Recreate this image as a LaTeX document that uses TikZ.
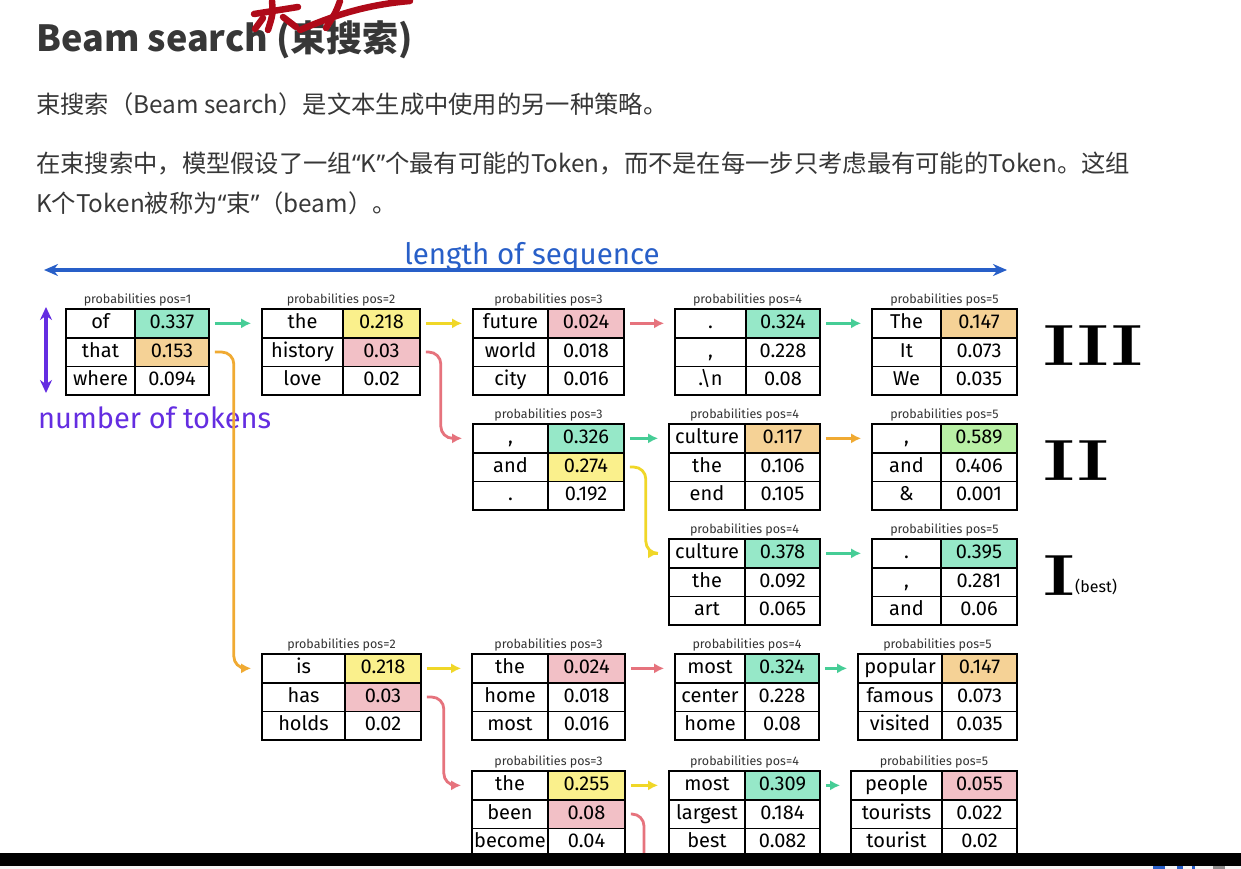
\documentclass[tikz,border=0pt]{standalone}
\usepackage{fontspec}
\setmainfont{Fira Sans}
\newfontfamily\cjk{Noto Sans CJK SC}
\newfontfamily\hand{Fira Sans}
\newfontfamily\quotefont{Noto Sans}
\newfontfamily\romanfont{Latin Modern Roman}
\usetikzlibrary{matrix,positioning,arrows.meta}

%% cell fills
\definecolor{cteal}{RGB}{150,232,200}
\definecolor{corange}{RGB}{245,210,150}
\definecolor{cyellow}{RGB}{250,240,140}
\definecolor{cpink}{RGB}{242,192,198}
\definecolor{cgreen}{RGB}{185,240,165}
%% connector colours
\definecolor{ateal}{RGB}{70,205,150}
\definecolor{ayellow}{RGB}{240,215,40}
\definecolor{apink}{RGB}{230,115,125}
\definecolor{aorange}{RGB}{240,170,50}
\definecolor{seqblue}{RGB}{40,95,200}
\definecolor{tokpurple}{RGB}{100,45,225}
\definecolor{txtgray}{RGB}{55,55,55}
\definecolor{inkred}{RGB}{175,10,25}

%% narrow quotes, as in the page text
\newcommand{\openq}{{\quotefont “}}
\newcommand{\closeq}{{\quotefont ”}}

\tikzset{
  probtab/.style 2 args={matrix of nodes, anchor=north west, inner sep=0pt,
    row sep=-1.6pt, column sep=-1.6pt,
    nodes={draw, line width=1.6pt, minimum height=28.7pt, inner sep=0pt,
      text height=14pt, text depth=4pt, anchor=center,
      font=\hand\fontsize{20}{20}\selectfont},
    column 1/.style={nodes={minimum width=#1}},
    column 2/.style={nodes={minimum width=#2}}},
  poslbl/.style={anchor=south, inner sep=1pt, yshift=1pt, text=black!80,
    font=\hand\fontsize{12.5}{12.5}\selectfont},
  flow/.style={draw=#1, line width=2.8pt, -{Latex[length=10pt,width=10pt]},
    shorten <=5pt, shorten >=10pt},
  jump/.style={flow=#1, rounded corners=12pt},
  body/.style={anchor=base west, inner sep=0pt, text=txtgray,
    font=\cjk\fontsize{24.3}{24.3}\selectfont},
  numeral/.style={anchor=base west, inner sep=0pt, xscale=1.3,
    font=\romanfont\bfseries\fontsize{58}{58}\selectfont}
}

\begin{document}
\begin{tikzpicture}[x=1pt,y=-1pt]
\useasboundingbox (0,0) rectangle (1241,869);
\fill[white] (0,0) rectangle (1241,869);

%% heading and text
\node[anchor=base west, inner sep=0pt, text=txtgray,
  font=\cjk\bfseries\fontsize{36}{36}\selectfont] (title) at (36,52) {Beam search (束搜索)};
\node[body] (para1) at (36,114) {束搜索（Beam search）是文本生成中使用的另一种策略。};
\node[body] (para2a) at (36,172) {在束搜索中，模型假设了一组\openq K\closeq 个最有可能的Token，而不是在每一步只考虑最有可能的Token。这组};
\node[body] (para2b) at (36,212) {K个Token被称为\openq 束\closeq（beam）。};

%% red pen marks over the heading
\begin{scope}[inkred, line width=6.5pt, line cap=round, line join=round]
\draw (254,14) -- (298,7);
\draw (272,1) .. controls (273,14) .. (268,30);
\draw (263,18) -- (255,29);
\draw (283,17) -- (296,27);
\draw (300,30) .. controls (328,18) and (362,5) .. (410,1);
\draw (340,1) .. controls (336,12) .. (326,28);
\end{scope}

%% axes
\coordinate (seqL) at (44,270);
\coordinate (seqR) at (1007,270);
\draw[seqblue, line width=3.2pt, {Stealth[length=14pt,width=12pt]}-{Stealth[length=14pt,width=12pt]}] (seqL) -- (seqR);
\node[anchor=base, inner sep=0pt, text=seqblue, font=\hand\fontsize{29.5}{29.5}\selectfont] (seqlbl) at (532,264) {length of sequence};

\coordinate (tokT) at (46,307);
\coordinate (tokB) at (46,393);
\draw[tokpurple, line width=3.2pt, {Stealth[length=13pt,width=12pt]}-{Stealth[length=13pt,width=12pt]}] (tokT) -- (tokB);
\node[anchor=base west, inner sep=0pt, text=tokpurple, font=\hand\fontsize{29}{29}\selectfont] (toklbl) at (38,428) {number of tokens};

%% beam 1 (top)
\matrix (t1) [probtab={69}{74}] at (65,308) {
  of    & |[fill=cteal]| 0.337 \\
  that  & |[fill=corange]| 0.153 \\
  where & 0.094 \\
};
\matrix (t2) [probtab={81}{77}] at (261,308) {
  the     & |[fill=cyellow]| 0.218 \\
  history & |[fill=cpink]| 0.03 \\
  love    & 0.02 \\
};
\matrix (t3a) [probtab={75}{76}] at (472,308) {
  future & |[fill=cpink]| 0.024 \\
  world  & 0.018 \\
  city   & 0.016 \\
};
\matrix (t4a) [probtab={71}{74}] at (674,308) {
  .               & |[fill=cteal]| 0.324 \\
  ,               & 0.228 \\
  .\textbackslash n & 0.08 \\
};
\matrix (t5a) [probtab={69}{76}] at (871,308) {
  The & |[fill=corange]| 0.147 \\
  It  & 0.073 \\
  We  & 0.035 \\
};

%% beam 2
\matrix (t3b) [probtab={75}{76}] at (472,423) {
  ,   & |[fill=cteal]| 0.326 \\
  and & |[fill=cyellow]| 0.274 \\
  .   & 0.192 \\
};
\matrix (t4b) [probtab={76}{75}] at (668,423) {
  culture & |[fill=corange]| 0.117 \\
  the     & 0.106 \\
  end     & 0.105 \\
};
\matrix (t5b) [probtab={69}{76}] at (871,423) {
  ,   & |[fill=cgreen]| 0.589 \\
  and & 0.406 \\
  \&  & 0.001 \\
};

%% beam 3
\matrix (t4c) [probtab={76}{75}] at (668,538) {
  culture & |[fill=cteal]| 0.378 \\
  the     & 0.092 \\
  art     & 0.065 \\
};
\matrix (t5c) [probtab={69}{76}] at (871,538) {
  .   & |[fill=cteal]| 0.395 \\
  ,   & 0.281 \\
  and & 0.06 \\
};

%% lower branch
\matrix (b2) [probtab={83}{76}] at (261,653) {
  is    & |[fill=cyellow]| 0.218 \\
  has   & |[fill=cpink]| 0.03 \\
  holds & 0.02 \\
};
\matrix (b3a) [probtab={76}{77}] at (471,653) {
  the  & |[fill=cpink]| 0.024 \\
  home & 0.018 \\
  most & 0.016 \\
};
\matrix (b3b) [probtab={76}{77}] at (471,770) {
  the    & |[fill=cyellow]| 0.255 \\
  been   & |[fill=cpink]| 0.08 \\
  become & 0.04 \\
};
\matrix (b4a) [probtab={70}{74}] at (674,653) {
  most   & |[fill=cteal]| 0.324 \\
  center & 0.228 \\
  home   & 0.08 \\
};
\matrix (b4b) [probtab={76}{75}] at (668,770) {
  most    & |[fill=cteal]| 0.309 \\
  largest & 0.184 \\
  best    & 0.082 \\
};
\matrix (b5a) [probtab={84}{75}] at (857,653) {
  popular & |[fill=corange]| 0.147 \\
  famous  & 0.073 \\
  visited & 0.035 \\
};
\matrix (b5b) [probtab={91}{75}] at (850,770) {
  people   & |[fill=cpink]| 0.055 \\
  tourists & 0.022 \\
  tourist  & 0.02 \\
};

%% table captions
\foreach \t/\p in {t1/1,t2/2,t3a/3,t3b/3,t4a/4,t4b/4,t4c/4,t5a/5,t5b/5,t5c/5,
                   b2/2,b3a/3,b3b/3,b4a/4,b4b/4,b5a/5,b5b/5}
  \node[poslbl] (cap-\t) at (\t.north) {probabilities pos=\p};

%% straight steps
\foreach \a/\b/\c in {t1/t2/ateal, t2/t3a/ayellow, t3a/t4a/apink, t4a/t5a/ateal,
                      t3b/t4b/ateal, t4b/t5b/aorange, t4c/t5c/ateal,
                      b2/b3a/ayellow, b3a/b4a/apink, b4a/b5a/ateal,
                      b3b/b4b/ayellow, b4b/b5b/ateal}
  \draw[flow=\c] (\a-1-2.east) -- (\b-1-1.west);

%% branching steps
\draw[jump=aorange] (t1-2-2.east) -- ++(24,0) |- (b2-1-1.west);
\draw[jump=apink] (t2-2-2.east) -- ++(20,0) |- (t3b-1-1.west);
\draw[jump=ayellow] (t3b-2-2.east) -- ++(21,0) |- (t4c-1-1.west);
\draw[jump=apink] (b2-2-2.east) -- ++(22,0) |- (b3b-1-1.west);
\coordinate (offbot) at (644,858);
\draw[apink, line width=2.8pt, rounded corners=12pt, shorten <=5pt] (b3b-2-2.east) -| (offbot);

%% beam ranks
\node[numeral] (rankIII) at (1043,365) {III};
\node[numeral] (rankII) at (1043,480) {II};
\node[numeral] (rankI) at (1043,595) {I};
\node[anchor=base west, inner sep=0pt, font=\hand\fontsize{16}{16}\selectfont] (best) at (1075,592) {(best)};

%% screen bottom
\fill[black] (0,853) rectangle (1241,866);
\fill[black!4] (0,866) rectangle (1241,869);
\fill[seqblue] (1153,866) rectangle (1165,869);
\fill[seqblue] (1177,866) rectangle (1183,869);
\fill[seqblue] (1192,866) rectangle (1195,869);
\fill[black!45] (1213,866) rectangle (1225,869);
\end{tikzpicture}
\end{document}
